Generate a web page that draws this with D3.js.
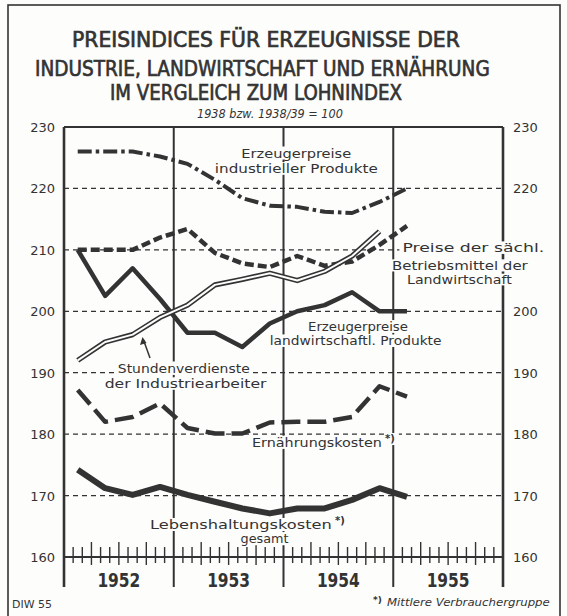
<!DOCTYPE html>
<html>
<head>
<meta charset="utf-8">
<script src="https://cdn.jsdelivr.net/npm/d3@7"></script>
<style>
  html, body { margin: 0; padding: 0; background: #fdfdfc; }
  svg { display: block; }
  text { font-family: "DejaVu Sans", sans-serif; fill: #333; }
</style>
</head>
<body>
<div id="chart"></div>
<script>
// Quarterly values (index 1938 bzw. 1938/39 = 100), plotted at quarter middle
const quarters = ['1952-1', '1952-2', '1952-3', '1952-4', '1953-1', '1953-2', '1953-3',
  '1953-4', '1954-1', '1954-2', '1954-3', '1954-4', '1955-1'];
const industrie = [226, 226, 226, 225.2, 224, 221.4, 218.4, 217.2, 217, 216.2, 216, 217.8, 220];
const betriebsmittel = [210, 210, 210, 212, 213.4, 209.5, 207.8, 207.2, 209, 207.4, 208.1, 210.8, 213.9];
const landwirtschaft = [210, 202.5, 207, 202, 196.5, 196.5, 194.2, 198, 200, 201, 203.1, 200, 200];
const stundenverdienste = [192, 195, 196.2, 199, 201, 204.3, 205.2, 206.2, 205, 206.5, 209, 213];
const ernaehrung = [187.2, 182, 182.8, 185, 181, 180.1, 180.1, 181.9, 182, 182, 182.8, 187.8, 186.1];
const lebenshaltung = [174.2, 171.2, 170.1, 171.4, 170.1, 169, 167.9, 167.1, 167.9, 167.9, 169.3, 171.2, 169.8];

const years = ['1952', '1953', '1954', '1955'];
const yTicks = [160, 170, 180, 190, 200, 210, 220, 230];
const rightTicks = [160, 170, 180, 190, 200, 220, 230]; // 210 hidden by the label

const W = 567, H = 616;
const ink = '#333';
const paper = '#fdfdfc';

const svg = d3.select('#chart').append('svg')
  .attr('width', W).attr('height', H);

svg.append('rect').attr('width', W).attr('height', H).attr('fill', paper);

// outer frame
svg.append('rect')
  .attr('x', 8).attr('y', 5).attr('width', 552).attr('height', 620)
  .attr('fill', 'none').attr('stroke', ink).attr('stroke-width', 1.6);

// month index -> x, value -> y
const x = d3.scaleLinear().domain([0, 48]).range([64, 503]);
const y = d3.scaleLinear().domain([160, 230]).range([557, 127]);

const qMonth = q => {
  const [yr, n] = q.split('-').map(Number);
  return (yr - 1952) * 12 + (n - 1) * 3 + 1.5;
};

// squeeze a text horizontally to a given width (real transform, so bbox is right)
function fitWidth(sel, x0, base, width) {
  const w = sel.node().getComputedTextLength();
  sel.attr('x', 0).attr('y', 0)
    .attr('transform', `translate(${x0},${base}) scale(${width / w},1)`);
}

// title
const titleLines = [
  { t: 'PREISINDICES FÜR ERZEUGNISSE DER', x0: 72, len: 388, base: 47 },
  { t: 'INDUSTRIE, LANDWIRTSCHAFT UND ERNÄHRUNG', x0: 35, len: 455, base: 76 },
  { t: 'IM VERGLEICH ZUM LOHNINDEX', x0: 110, len: 292, base: 100 }
];
titleLines.forEach(d => {
  const t = svg.append('text')
    .attr('font-size', 20.5)
    .attr('stroke', ink).attr('stroke-width', 0.7)
    .text(d.t);
  fitWidth(t, d.x0, d.base, d.len);
});

const sub = svg.append('text')
  .attr('font-size', 13).attr('font-style', 'italic')
  .text('1938 bzw. 1938/39 = 100');
fitWidth(sub, 197, 118, 146);

const g = svg.append('g');

// dashed grid
g.selectAll('line.grid').data(yTicks.filter(v => v > 160 && v < 230)).enter().append('line')
  .attr('x1', x(0)).attr('x2', x(48))
  .attr('y1', d => y(d)).attr('y2', d => y(d))
  .attr('stroke', ink).attr('stroke-width', 1.2).attr('stroke-dasharray', '5,4');

// top border + base line
g.append('line').attr('x1', x(0)).attr('x2', x(48)).attr('y1', y(230)).attr('y2', y(230))
  .attr('stroke', ink).attr('stroke-width', 2);
g.append('line').attr('x1', x(0)).attr('x2', x(48)).attr('y1', y(160)).attr('y2', y(160))
  .attr('stroke', ink).attr('stroke-width', 2);

// left/right axis and year dividers
g.selectAll('line.vert').data([0, 12, 24, 36, 48]).enter().append('line')
  .attr('x1', d => x(d)).attr('x2', d => x(d))
  .attr('y1', y(230)).attr('y2', 587)
  .attr('stroke', ink).attr('stroke-width', d => (d === 0 || d === 48) ? 2.6 : 2);

// month ticks crossing the base line
const months = d3.range(1, 48).filter(m => m % 12 !== 0);
g.selectAll('line.tick').data(months).enter().append('line')
  .attr('x1', d => x(d)).attr('x2', d => x(d))
  .attr('y1', d => d % 3 === 0 ? 542 : 547)
  .attr('y2', d => d % 3 === 0 ? 565 : 563)
  .attr('stroke', ink).attr('stroke-width', 1.4);

// y labels
g.selectAll('text.yl').data(yTicks).enter().append('text')
  .attr('x', 55).attr('y', d => y(d) + 5)
  .attr('text-anchor', 'end').attr('font-size', 13)
  .text(d => d);
g.selectAll('text.yr').data(rightTicks).enter().append('text')
  .attr('x', 513).attr('y', d => y(d) + 5)
  .attr('font-size', 13)
  .text(d => d);

// year labels
years.forEach((d, i) => {
  const t = g.append('text')
    .attr('font-size', 20).attr('font-weight', 'bold')
    .text(d);
  fitWidth(t, x(i * 12 + 6) - 21.5, 587, 43);
});

// labels with white knock-out background: [text, month, value (baseline), width]
const labels = [
  { lines: [['Erzeugerpreise', 25.4, 225.0, 110], ['industrieller Produkte', 25.4, 222.5, 163]] },
  { lines: [['Preise der sächl.', 37.0, 209.7, 142], ['Betriebsmittel der', 35.85, 206.75, 136], ['Landwirtschaft', 37.5, 204.5, 105]], anchor: 'start', size: 12 },
  { lines: [['Erzeugerpreise', 32.15, 196.8, 100], ['landwirtschaftl. Produkte', 31.9, 194.5, 172]] },
  { lines: [['Stundenverdienste', 13.1, 189.95, 132], ['der Industriearbeiter', 13.3, 187.5, 162]] },
  { lines: [['Ernährungskosten', 20.55, 177.9, 130]], anchor: 'start', star: true },
  { lines: [['Lebenshaltungskosten', 9.4, 164.5, 182], ['gesamt', 19.3, 162.25, 48]], anchor: 'start', star: true }
];

const labelLayer = svg.append('g');
const lineLayer = svg.append('g');

labels.forEach(lab => {
  const lg = labelLayer.append('g');
  const bg = lg.append('g');
  const tg = lg.append('g');
  lab.lines.forEach(([t, m, v, len]) => {
    const txt = tg.append('text')
      .attr('font-size', lab.size || 13)
      .text(t);
    const x0 = lab.anchor === 'start' ? x(m) : x(m) - len / 2;
    fitWidth(txt, x0, y(v), len);
  });
  tg.selectAll('text').each(function() {
    const b = this.getBoundingClientRect();
    bg.append('rect')
      .attr('x', b.x - 3).attr('y', b.y + 1)
      .attr('width', b.width + 6).attr('height', b.height - 2)
      .attr('fill', paper);
  });
  if (lab.star) {
    const [, m, v, len] = lab.lines[0];
    const sx = x(m) + len + 3;
    bg.append('rect').attr('x', sx - 1).attr('y', y(v) - 14).attr('width', 15).attr('height', 12)
      .attr('fill', paper);
    tg.append('text')
      .attr('x', sx).attr('y', y(v) - 5)
      .attr('font-size', 10).attr('font-weight', 'bold')
      .text('*)');
  }
});

// arrow to the wage line
labelLayer.append('line')
  .attr('x1', 150).attr('y1', 358).attr('x2', 143.5).attr('y2', 340)
  .attr('stroke', ink).attr('stroke-width', 1.5);
labelLayer.append('path')
  .attr('d', 'M142.5,337 L140,345 L146.5,343 Z')
  .attr('fill', ink);

// series
const line = d3.line()
  .x((d, i) => x(qMonth(quarters[i])))
  .y(d => y(d))
  .curve(d3.curveLinear);

function drawSeries(values, width, dash) {
  lineLayer.append('path')
    .attr('d', line(values))
    .attr('fill', 'none').attr('stroke', ink)
    .attr('stroke-width', width)
    .attr('stroke-linejoin', 'round')
    .attr('stroke-dasharray', dash || null);
}

drawSeries(industrie, 4, '14,4,3.5,4');
drawSeries(betriebsmittel, 4.5, '9,4');
drawSeries(landwirtschaft, 4.5);
drawSeries(ernaehrung, 4.5, '19,7');
drawSeries(lebenshaltung, 6);

// double line: dark outer, white core
drawSeries(stundenverdienste, 5.2);
lineLayer.append('path')
  .attr('d', line(stundenverdienste))
  .attr('fill', 'none').attr('stroke', paper)
  .attr('stroke-width', 2).attr('stroke-linejoin', 'round');

// footer
const diw = svg.append('text').attr('font-size', 10).text('DIW 55');
fitWidth(diw, 12, 608, 40);
svg.append('text').attr('x', 373).attr('y', 603).attr('font-size', 9).attr('font-weight', 'bold')
  .text('*)');
const note = svg.append('text').attr('font-size', 10).attr('font-style', 'italic')
  .text('Mittlere Verbrauchergruppe');
fitWidth(note, 387, 606, 163);
</script>
</body>
</html>
